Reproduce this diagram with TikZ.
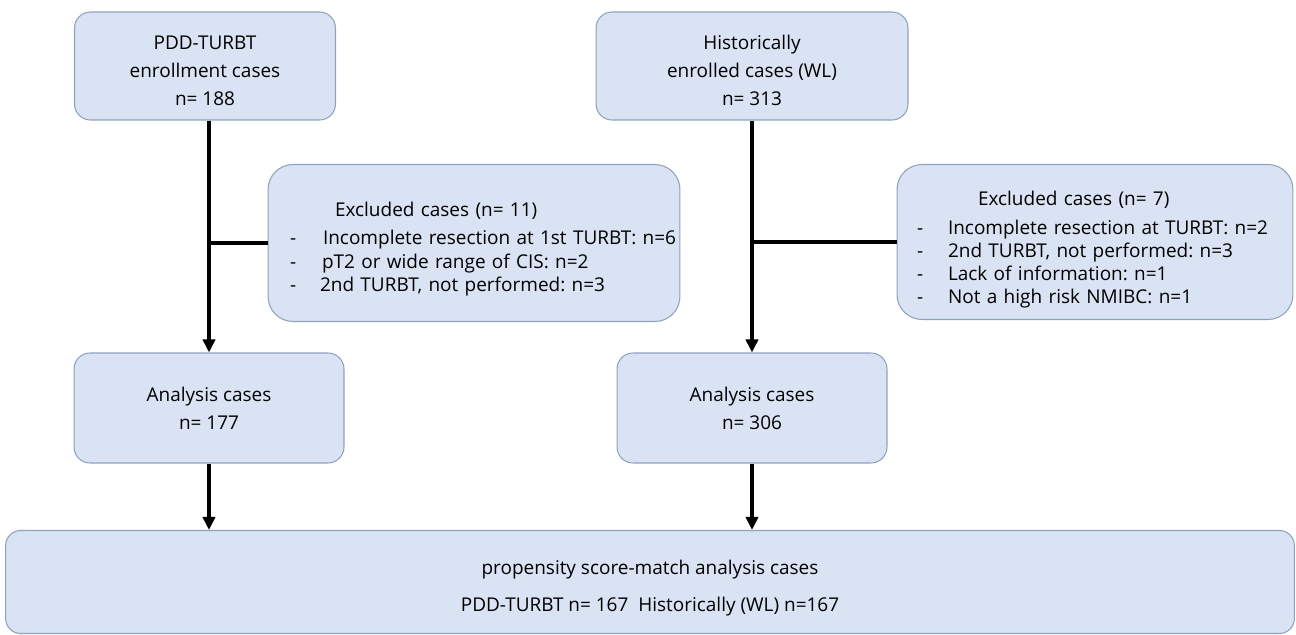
\documentclass[tikz,border=0pt]{standalone}
\usepackage{fontspec}
\setmainfont{Open Sans}
\usetikzlibrary{arrows.meta}
\frenchspacing

\definecolor{boxfill}{HTML}{DAE3F3}
\definecolor{boxline}{HTML}{8FA2BE}

\newcommand{\exline}[3]{\hspace*{#1}\makebox[#2][l]{-}#3}
\newcommand{\topgap}[1]{\rule{0pt}{#1}}

\tikzset{
  box/.style={draw=boxline, fill=boxfill, line width=0.6pt, rounded corners=0.32cm,
    align=center, inner sep=0pt, font=\fontsize{10.8}{16}\selectfont},
  exbox/.style={box, rounded corners=0.5cm, align=left, font=\fontsize{10.8}{13.2}\selectfont},
  link/.style={black, line width=2.4pt},
  arrow/.style={link, -{Triangle[width=7pt,length=7.5pt]}}
}

\begin{document}
\begin{tikzpicture}[x=0.02cm, y=-0.02cm]
\useasboundingbox (0,0) rectangle (1296,635);

% top row
\node[box, minimum width=5.22cm, minimum height=2.16cm] (pdd) at (205,66)
  {\topgap{13.5pt}PDD-TURBT\\enrollment cases\\n= 188};
\node[box, minimum width=6.24cm, minimum height=2.16cm] (hist) at (752,66)
  {\topgap{13.5pt}Historically\\enrolled cases (WL)\\n= 313};

% exclusions
\node[exbox, text width=8.24cm, minimum height=3.14cm] (ex1) at (474,243)
  {\topgap{15pt}\hspace*{1.34cm}Excluded cases (n= 11)\\[3pt]
   \exline{0.44cm}{0.66cm}{Incomplete resection at 1st TURBT: n=6}\\
   \exline{0.44cm}{0.64cm}{pT2 or wide range of CIS: n=2}\\
   \exline{0.44cm}{0.6cm}{2nd TURBT, not performed: n=3}};
\node[exbox, text width=7.92cm, minimum height=3.1cm] (ex2) at (1095,242)
  {\topgap{17pt}\hspace*{1.62cm}Excluded cases (n= 7)\\[3pt]
   \exline{0.4cm}{0.62cm}{Incomplete resection at TURBT: n=2}\\
   \exline{0.4cm}{0.62cm}{2nd TURBT, not performed: n=3}\\
   \exline{0.4cm}{0.62cm}{Lack of information: n=1}\\
   \exline{0.4cm}{0.62cm}{Not a high risk NMIBC: n=1}};

% analysis
\node[box, minimum width=5.4cm, minimum height=2.2cm] (ana1) at (209,408)
  {Analysis cases\\n= 177};
\node[box, minimum width=5.4cm, minimum height=2.2cm] (ana2) at (752,408)
  {Analysis cases\\n= 306};

% matched
\node[box, minimum width=25.78cm, minimum height=2.06cm, rounded corners=0.3cm,
  font=\fontsize{10.8}{21}\selectfont] (psm) at (650,582)
  {\topgap{15pt}propensity score-match analysis cases\\PDD-TURBT n= 167\ \ Historically (WL) n=167};

% connectors
\draw[arrow] (pdd.south -| ana1.north) -- (ana1.north);
\draw[link] (ana1.north |- ex1.west) -- (ex1.west);
\draw[arrow] (hist.south) -- (ana2.north);
\draw[link] (ana2.north |- ex2.west) -- (ex2.west);
\draw[arrow] (ana1.south) -- (ana1.south |- psm.north);
\draw[arrow] (ana2.south) -- (ana2.south |- psm.north);
\end{tikzpicture}
\end{document}
